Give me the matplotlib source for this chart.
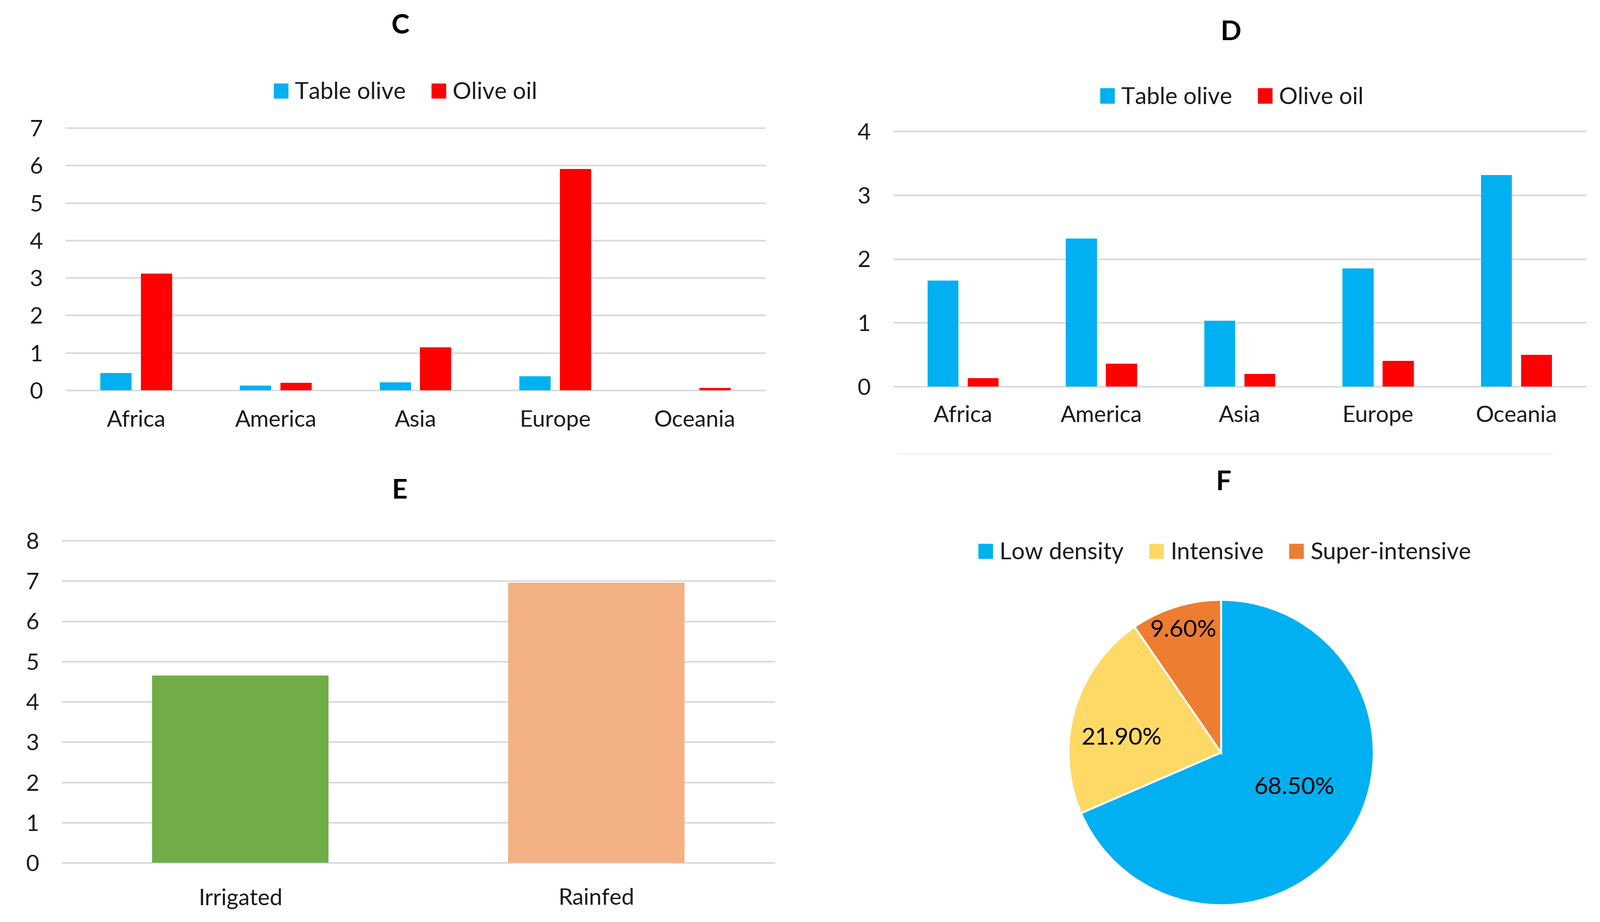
import matplotlib
matplotlib.use('Agg')
import matplotlib.pyplot as plt
import numpy as np
from matplotlib.patches import Patch
from matplotlib.lines import Line2D

# data
regions = ['Africa', 'America', 'Asia', 'Europe', 'Oceania']
c_table_olive = [0.46, 0.12, 0.21, 0.37, 0.0]
c_olive_oil = [3.12, 0.20, 1.14, 5.90, 0.06]
d_table_olive = [1.66, 2.32, 1.03, 1.85, 3.31]
d_olive_oil = [0.13, 0.36, 0.20, 0.40, 0.50]
e_labels = ['Irrigated', 'Rainfed']
e_values = [4.65, 6.96]
f_labels = ['Low density', 'Intensive', 'Super-intensive']
f_values = [68.5, 21.9, 9.6]

BLUE = '#00B0F0'
RED = '#FF0000'
GRID = '#D9D9D9'
TXT = '#1a1a1a'

plt.rcParams['font.family'] = ['Lato', 'DejaVu Sans']
plt.rcParams['text.color'] = TXT

W, H = 3430, 1975
fig = plt.figure(figsize=(W / 100, H / 100), dpi=100)


def px_axes(x0, y0, x1, y1):
    return fig.add_axes([x0 / W, 1 - y1 / H, (x1 - x0) / W, (y1 - y0) / H])


def style(ax, ymax, xpad):
    ax.set_ylim(0, ymax)
    ax.set_yticks(range(ymax + 1))
    for s in ax.spines.values():
        s.set_visible(False)
    ax.yaxis.grid(True, color=GRID, linewidth=2.5)
    for ln in ax.get_ygridlines():
        ln.set_clip_on(False)
    ax.set_axisbelow(True)
    ax.tick_params(axis='both', length=0, labelsize=35, colors=TXT)
    ax.tick_params(axis='y', pad=36)
    ax.tick_params(axis='x', pad=xpad)


def legend_at(handles, labels, cx, cy):
    fig.legend(handles, labels, loc='center', bbox_to_anchor=(cx / W, 1 - cy / H),
               ncol=len(labels), frameon=False, fontsize=36, handlelength=0.6,
               handleheight=0.6, handletextpad=0.3, columnspacing=1.1)


def title(txt, cx, cy):
    fig.text(cx / W, 1 - cy / H, txt, ha='center', va='center', fontsize=42,
             fontweight='bold', color='black')


x = np.arange(len(regions))
bw = 0.224
off = 0.145

# C
axc = px_axes(142, 274, 1639, 836)
axc.bar(x - off, c_table_olive, bw, color=BLUE)
axc.bar(x + off, c_olive_oil, bw, color=RED)
axc.set_xlim(-0.5, 4.5)
axc.set_xticks(x)
axc.set_xticklabels(regions)
style(axc, 7, 30)
title('C', 858, 55)
legend_at([Patch(color=BLUE), Patch(color=RED)], ['Table olive', 'Olive oil'], 869, 198)

# D
axd = px_axes(1916, 281, 3398, 828)
axd.bar(x - off, d_table_olive, bw, color=BLUE)
axd.bar(x + off, d_olive_oil, bw, color=RED)
axd.set_xlim(-0.5, 4.5)
axd.set_xticks(x)
axd.set_xticklabels(regions)
style(axd, 4, 29)
title('D', 2638, 70)
legend_at([Patch(color=BLUE), Patch(color=RED)], ['Table olive', 'Olive oil'], 2640, 209)
fig.add_artist(Line2D([1926 / W, 3328 / W], [1 - 973 / H, 1 - 973 / H],
                      color='#EFEFEF', linewidth=1.5))

# E
axe = px_axes(134, 1158, 1659, 1848)
xe = np.arange(len(e_labels))
axe.bar(xe, e_values, 0.496, color=['#70AD47', '#F4B183'])
axe.set_xlim(-0.5, 1.5)
axe.set_xticks(xe)
axe.set_xticklabels(e_labels)
style(axe, 8, 39)
title('E', 856, 1052)

# F
r = 327
cx, cy = 2617, 1612
axf = px_axes(cx - r, cy - r, cx + r, cy + r)
f_colors = [BLUE, '#FFD966', '#ED7D31']
wedges, _ = axf.pie(f_values, colors=f_colors, startangle=90, counterclock=False,
                    wedgeprops=dict(edgecolor='white', linewidth=3))
axf.set_xlim(-1, 1)
axf.set_ylim(-1, 1)
# label placement: distance from centre, angle shift (deg) from wedge middle
dists = [0.53, 0.66, 0.84]
shifts = [7.7, 7.7, 0]
for w, v, d, s in zip(wedges, f_values, dists, shifts):
    ang = np.deg2rad((w.theta1 + w.theta2) / 2 + s)
    axf.text(d * np.cos(ang), d * np.sin(ang), f'{v:.2f}%', ha='center', va='center',
             fontsize=37, color='black')
title('F', 2622, 1034)
legend_at([Patch(color=c) for c in f_colors], f_labels, 2625, 1184)

fig.savefig('out.png', dpi=100, facecolor='white')
